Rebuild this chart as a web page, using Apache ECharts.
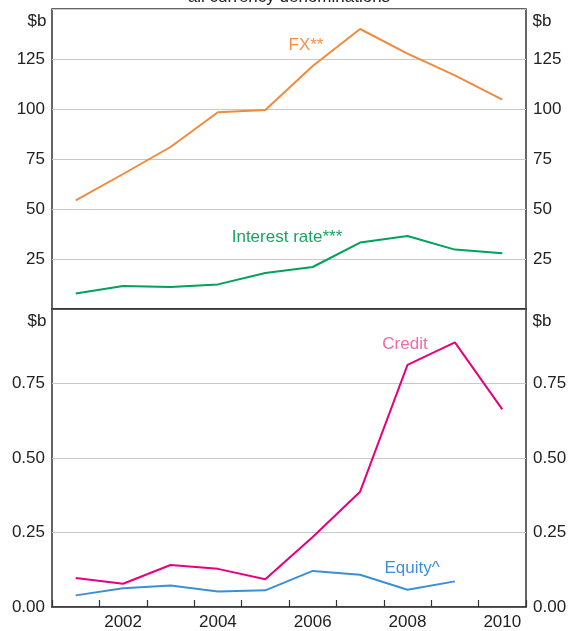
<!DOCTYPE html>
<html>
<head>
<meta charset="utf-8">
<script src="https://cdn.jsdelivr.net/npm/echarts@6/dist/echarts.min.js"></script>
<style>
  html, body { margin: 0; padding: 0; background: #fff; }
  #chart { width: 578px; height: 631px; }
</style>
</head>
<body>
<div id="chart"></div>
<script>
// years on the x axis (annual observations)
const years = ['2001', '2002', '2003', '2004', '2005', '2006', '2007', '2008', '2009', '2010'];

// top panel, $b
const fx = [54.3, 67.5, 81, 98.4, 99.5, 121.5, 140, 127.7, 116.8, 104.7];
const interestRate = [7.7, 11.5, 11, 12.3, 18, 21, 33.2, 36.5, 29.7, 27.9];

// bottom panel, $b
const credit = [0.097, 0.078, 0.141, 0.128, 0.093, 0.235, 0.387, 0.8125, 0.888, 0.663];
const equity = [0.039, 0.063, 0.072, 0.052, 0.056, 0.121, 0.108, 0.058, 0.086, null];

const topTicks = [25, 50, 75, 100, 125];
const bottomTicks = [0, 0.25, 0.5, 0.75];

const FONT = 'Liberation Sans, Arial, sans-serif';
const AXIS = '#333';
const GRIDLINE = '#c8c8c8';

const chart = echarts.init(document.getElementById('chart'), null, { renderer: 'canvas' });

const labelStyle = { color: '#222', fontSize: 17, fontFamily: FONT };

function xAxisFor(gridIndex, showLabels) {
  return {
    type: 'category',
    gridIndex,
    data: years,
    boundaryGap: true,
    axisLine: { show: true, lineStyle: { color: AXIS, width: 1.5 } },
    axisTick: { show: showLabels, inside: true, length: 7, interval: 0, lineStyle: { color: AXIS, width: 1.2 } },
    axisLabel: {
      show: showLabels,
      margin: 7,
      interval: (i) => i % 2 === 1,
      ...labelStyle
    },
    splitLine: { show: false }
  };
}

function yAxisFor(gridIndex, position, min, max, interval, ticks, fmt, split) {
  return {
    type: 'value',
    gridIndex,
    position,
    min, max, interval,
    axisLine: { show: false },
    axisTick: { show: false },
    axisLabel: {
      margin: 7,
      formatter: (v) => ticks.some(t => Math.abs(t - v) < 1e-9) ? fmt(v) : '',
      ...labelStyle
    },
    splitLine: {
      show: split,
      lineStyle: { color: GRIDLINE, width: 1 }
    }
  };
}

function line(name, data, color, xi, yi) {
  return {
    name, type: 'line', data,
    xAxisIndex: xi, yAxisIndex: yi,
    symbol: 'none', smooth: false,
    lineStyle: { color, width: 2 },
    itemStyle: { color },
    z: 5
  };
}

function note(text, x, y, color) {
  return {
    type: 'text', x, y, silent: true,
    style: { text, fill: color, font: '17px ' + FONT, textAlign: 'center', textVerticalAlign: 'middle' }
  };
}

const option = {
  animation: false,
  backgroundColor: '#fff',
  grid: [
    { left: 52, right: 52, top: 9, height: 300, show: true, borderColor: AXIS, borderWidth: 1.5 },
    { left: 52, right: 52, top: 309, height: 300, show: true, borderColor: AXIS, borderWidth: 1.5 }
  ],
  xAxis: [xAxisFor(0, false), xAxisFor(1, true)],
  yAxis: [
    yAxisFor(0, 'left', 0, 150, 25, topTicks, v => String(v), true),
    yAxisFor(0, 'right', 0, 150, 25, topTicks, v => String(v), false),
    yAxisFor(1, 'left', 0, 1, 0.25, bottomTicks, v => v.toFixed(2), true),
    yAxisFor(1, 'right', 0, 1, 0.25, bottomTicks, v => v.toFixed(2), false)
  ],
  series: [
    line('FX**', fx, '#f08a3c', 0, 0),
    line('Interest rate***', interestRate, '#00a15a', 0, 0),
    line('Credit', credit, '#e6007e', 1, 2),
    line('Equity^', equity, '#3d8fd4', 1, 2)
  ],
  graphic: [
    note('all currency denominations', 289, -2.5, '#222'),
    note('$b', 37, 21, '#222'),
    note('$b', 542, 21, '#222'),
    note('$b', 37, 321, '#222'),
    note('$b', 542, 321, '#222'),
    note('FX**', 306, 45, '#f5904a'),
    note('Interest rate***', 287, 237, '#17a562'),
    note('Credit', 405, 344, '#f06aa8'),
    note('Equity^', 412, 568, '#3f8fd6')
  ]
};

chart.setOption(option);
</script>
</body>
</html>
